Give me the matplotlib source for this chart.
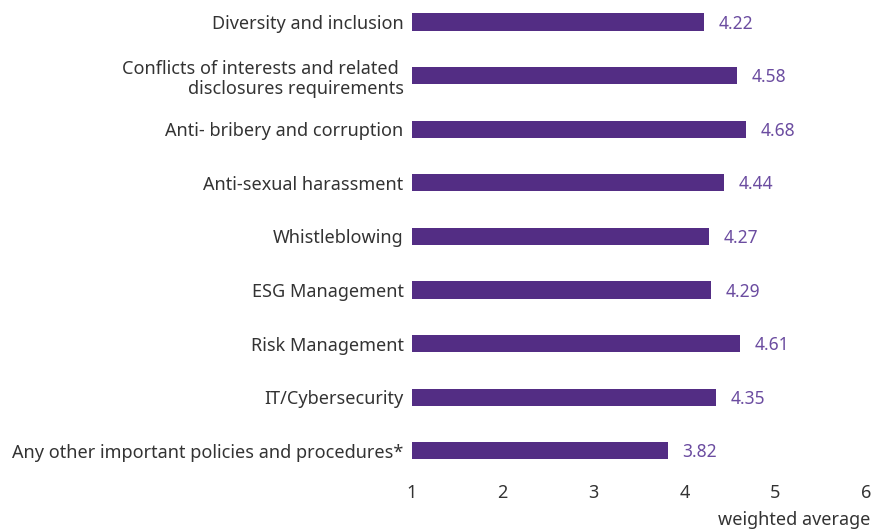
import matplotlib.pyplot as plt

plt.rcParams['font.family'] = ['Noto Sans', 'DejaVu Sans']

categories = [
    'Diversity and inclusion',
    'Conflicts of interests and related \ndisclosures requirements',
    'Anti- bribery and corruption',
    'Anti-sexual harassment',
    'Whistleblowing',
    'ESG Management',
    'Risk Management',
    'IT/Cybersecurity',
    'Any other important policies and procedures*',
]
scores = [4.22, 4.58, 4.68, 4.44, 4.27, 4.29, 4.61, 4.35, 3.82]
x_ticks = [1, 2, 3, 4, 5, 6]

bar_color = '#532d84'
value_color = '#6b4ca0'
text_color = '#333333'

fig = plt.figure(figsize=(8.85, 5.29), dpi=100)
ax = fig.add_axes([0.4655, 0.087, 0.513, 0.912])

pos = list(range(len(categories)))
base = 1
ax.barh(pos, [s - base for s in scores], left=base, height=0.32, color=bar_color)

for p, s in zip(pos, scores):
    ax.text(s + 0.16, p + 0.03, f'{s:.2f}', va='center', ha='left',
            color=value_color, fontsize=12.5, fontweight='light')

ax.set_xlim(1, 6)
ax.set_ylim(8.6, -0.4)
ax.set_xticks(x_ticks)
ax.set_yticks(pos)
ax.set_yticklabels(categories, fontsize=13, color=text_color, fontweight='light')
for lbl in ax.get_xticklabels():
    lbl.set_fontweight('light')
ax.tick_params(axis='x', labelsize=13, colors=text_color, length=0, pad=1)
ax.tick_params(axis='y', length=0, pad=6)
for sp in ax.spines.values():
    sp.set_visible(False)

fig.text(0.984, 0.0, 'weighted average', ha='right', va='bottom',
         fontsize=13, color=text_color, fontweight='light')

fig.savefig('out.png', dpi=100)
